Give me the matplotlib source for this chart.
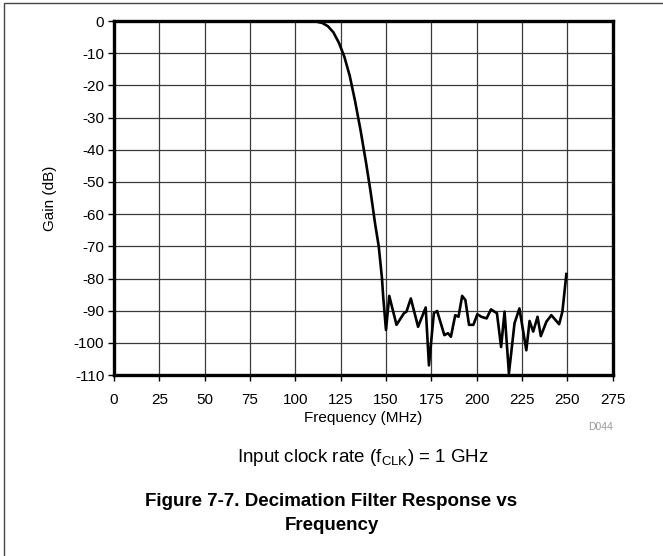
import matplotlib
matplotlib.use("Agg")
import matplotlib.pyplot as plt
from matplotlib.patches import Rectangle

plt.rcParams['font.family'] = ['Liberation Sans', 'DejaVu Sans']
plt.rcParams['mathtext.fontset'] = 'custom'
plt.rcParams['mathtext.rm'] = 'Liberation Sans'
plt.rcParams['axes.unicode_minus'] = False

# decimation filter response, gain (dB) vs frequency (MHz)
freq = [108, 112, 115, 118, 121, 124, 127, 130, 133, 136, 139, 141.5, 144, 146, 147.8, 148.5,
        150, 151.8, 155.8, 159.9, 161.3, 163.7, 167.7, 171.9, 173.7, 176.4, 178.2, 182.2, 184.2,
        185.8, 188.2, 190, 192, 193.8, 195.8, 198.2, 200.4, 202.6, 205.5, 207.9, 211.2, 213.5,
        215.4, 217.8, 220.9, 223.6, 225.4, 227.4, 229.2, 231.2, 233.6, 235.4, 238.5, 241.2,
        245.5, 247.3, 249.5]
gain = [0, -0.2, -0.6, -1.6, -3.5, -6.7, -11, -17, -25, -34, -44, -53, -63, -70, -80, -86,
        -96, -85.4, -94.4, -90.8, -90.3, -86.2, -95, -89, -107, -90.8, -90.1, -97.6, -97,
        -98.1, -91.4, -91.9, -85.4, -86.7, -94.4, -94.4, -91.1, -91.9, -92.4, -89.6, -90.8, -101.3,
        -90.3, -109.5, -93.9, -89.3, -95.5, -102.3, -93.2, -96.5, -91.9, -97.9, -93.4, -91.4,
        -94.2, -90.3, -78.6]

xticks = list(range(0, 276, 25))
yticks = list(range(-110, 1, 10))

fig = plt.figure(figsize=(6.63, 5.56), dpi=100)
ax = fig.add_axes([0.172, 0.3255, 0.752, 0.6365])

ax.plot(freq, gain, color='black', lw=1.9, solid_joinstyle='round')
ax.set_xlim(0, 275)
ax.set_ylim(-110, 0)
ax.set_xticks(xticks)
ax.set_yticks(yticks)
ax.grid(True, color='#3a3a3a', lw=0.9)
ax.set_axisbelow(True)
for sp in ax.spines.values():
    sp.set_linewidth(2.4)
ax.tick_params(length=4, width=1, labelsize=11)
ax.tick_params(axis='x', pad=9)
ax.tick_params(axis='y', pad=3)
ax.set_xlabel('Frequency (MHz)', fontsize=11, labelpad=3)
ax.set_ylabel('Gain (dB)', fontsize=11, labelpad=12)

fig.text(0.924, 0.226, 'D044', fontsize=7.5, color='#999999', ha='right')
fig.text(0.548, 0.178, r'Input clock rate (f$_\mathrm{CLK}$) = 1 GHz', fontsize=13.5,
         ha='center', va='center')
fig.text(0.5, 0.076, 'Figure 7-7. Decimation Filter Response vs\nFrequency', fontsize=13.5,
         fontweight='bold', ha='center', va='center', linespacing=1.55)

# outer figure frame
fig.patches.append(Rectangle((0.006, -0.1), 1.1, 1.095, transform=fig.transFigure,
                             fill=False, edgecolor='#444444', lw=1.0))

fig.savefig('out.png', dpi=100)
